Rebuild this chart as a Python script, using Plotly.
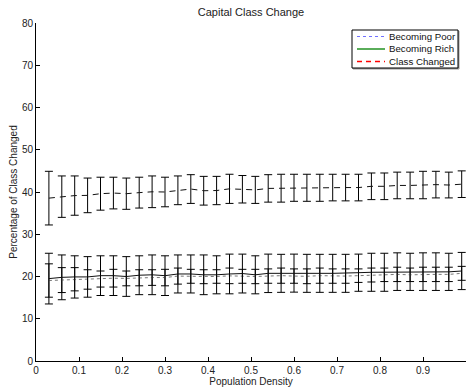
import plotly.graph_objects as go

density = [round(0.03 * k, 2) for k in range(1, 34)]

poor_mean = [19.05, 19.15, 19.35, 19.3, 19.4, 19.6, 19.55, 19.7, 19.75, 19.75, 20.1,
             20.05, 19.95, 20.0, 20.15, 20.05, 20.0, 20.1, 20.2, 20.1, 20.05, 20.2,
             20.1, 20.1, 20.2, 20.35, 20.4, 20.5, 20.4, 20.5, 20.5, 20.5, 20.75]
poor_err = [3.95, 2.95, 2.75, 2.3, 1.9, 2.1, 1.75, 1.9, 1.85, 1.95, 1.9,
            1.65, 1.65, 1.6, 1.85, 1.65, 1.7, 1.7, 1.8, 1.7, 1.75, 1.8,
            1.7, 1.7, 1.6, 1.65, 1.6, 1.7, 1.6, 1.7, 1.7, 1.7, 1.65]

rich_mean = [19.5, 19.8, 19.9, 19.9, 20.2, 20.2, 20.0, 20.3, 20.4, 20.2, 20.6,
             20.6, 20.4, 20.4, 20.6, 20.7, 20.4, 20.75, 20.75, 20.8, 20.75, 20.75,
             20.75, 20.75, 20.9, 21.0, 21.0, 21.15, 21.1, 21.15, 21.15, 21.1, 21.3]
rich_err = [6.0, 5.3, 5.0, 4.8, 4.7, 4.7, 4.7, 4.6, 4.7, 4.7, 4.5,
            4.5, 4.7, 4.5, 4.7, 4.6, 4.5, 4.55, 4.5, 4.5, 4.5, 4.5,
            4.5, 4.5, 4.4, 4.5, 4.5, 4.45, 4.4, 4.45, 4.45, 4.4, 4.4]

changed_mean = [38.55, 38.9, 39.15, 39.2, 39.6, 39.75, 39.6, 39.85, 40.05, 40.0, 40.4,
                40.7, 40.3, 40.35, 40.75, 40.65, 40.5, 40.85, 40.9, 41.0, 41.0, 41.0,
                41.05, 41.05, 41.05, 41.35, 41.35, 41.55, 41.55, 41.65, 41.75, 41.65, 41.85]
changed_err = [6.35, 4.9, 4.65, 4.1, 3.9, 3.75, 3.7, 3.65, 3.75, 3.5, 3.4,
               3.4, 3.4, 3.35, 3.45, 3.25, 3.2, 3.25, 3.3, 3.2, 3.2, 3.2,
               3.15, 3.15, 3.15, 3.15, 3.15, 3.15, 3.15, 3.25, 3.15, 3.05, 3.15]

series_names = ["Becoming Poor", "Becoming Rich", "Class Changed"]
x_ticks = [0, 0.1, 0.2, 0.3, 0.4, 0.5, 0.6, 0.7, 0.8, 0.9, 1]
y_ticks = [0, 10, 20, 30, 40, 50, 60, 70, 80]

FONT = "Liberation Sans, Arial, sans-serif"
W, H = 466, 390
L, R, T, B = 36, 0, 23, 29
PW, PH = W - L - R, H - T - B


def px(xp):
    return (xp - L) / PW


def py(yp):
    return (H - B - yp) / PH


fig = go.Figure()

data_specs = [
    (poor_mean, poor_err, dict(color="#777777", width=1, dash="dot")),
    (rich_mean, rich_err, dict(color="#111111", width=1, dash="solid")),
    (changed_mean, changed_err, dict(color="#111111", width=1, dash="6px,5px")),
]
for name, (mean, err, line) in zip(series_names, data_specs):
    fig.add_trace(go.Scatter(
        x=density, y=mean, mode="lines", line=line, showlegend=False, name=name,
        error_y=dict(type="data", array=err, visible=True, color="#000000",
                     thickness=1, width=4),
        hoverinfo="skip",
    ))

# MATLAB-style legend box drawn in paper coordinates
legend_styles = [
    dict(color="#7070ff", width=1, dash="dot"),
    dict(color="#008000", width=1.3, dash="solid"),
    dict(color="#ff0000", width=1.4, dash="5px,4px"),
]
shapes = [
    dict(type="rect", xref="paper", yref="paper",
         x0=px(353), x1=px(459), y0=py(69), y1=py(31),
         line=dict(color="#999999", width=1), fillcolor="#999999", layer="above"),
    dict(type="rect", xref="paper", yref="paper",
         x0=px(352), x1=px(458), y0=py(68), y1=py(30),
         line=dict(color="black", width=1), fillcolor="white", layer="above"),
]
annotations = []
rows = [36.5, 49, 61.5]
for name, line, ry in zip(series_names, legend_styles, rows):
    shapes.append(dict(type="line", xref="paper", yref="paper",
                       x0=px(357), x1=px(385), y0=py(ry), y1=py(ry),
                       line=line, layer="above"))
    annotations.append(dict(text=name, xref="paper", yref="paper",
                            x=px(387), y=py(ry), xanchor="left", yanchor="middle",
                            showarrow=False, font=dict(size=9.7, color="#111111")))

fig.update_layout(
    width=W, height=H,
    margin=dict(l=L, r=R, t=T, b=B, autoexpand=False),
    paper_bgcolor="white", plot_bgcolor="white",
    font=dict(family=FONT, size=10, color="#222222"),
    title=dict(text="Capital Class Change", x=251 / W, xanchor="center",
               y=1 - 12 / H, yanchor="middle", font=dict(size=11, color="#222222")),
    showlegend=False,
    shapes=shapes,
    annotations=annotations,
)
fig.update_xaxes(
    range=[0, 1], tickvals=x_ticks, ticktext=[str(t) for t in x_ticks],
    showgrid=False, zeroline=False, showline=True, linecolor="black", linewidth=1,
    ticks="inside", ticklen=4, tickcolor="black", mirror=False, automargin=False,
    title=dict(text="Population Density", standoff=0, font=dict(size=10)),
)
fig.update_yaxes(
    range=[0, 80], tickvals=y_ticks, ticktext=[str(t) for t in y_ticks],
    showgrid=False, zeroline=False, showline=True, linecolor="black", linewidth=1,
    ticks="inside", ticklen=4, tickcolor="black", mirror=False, automargin=False,
    title=dict(text="Percentage of Class Changed", standoff=2, font=dict(size=10)),
)

fig.write_html(
    "out.html",
    config={"displayModeBar": False, "staticPlot": True},
    post_script="document.body.style.margin='0';document.body.style.overflow='hidden';",
)
